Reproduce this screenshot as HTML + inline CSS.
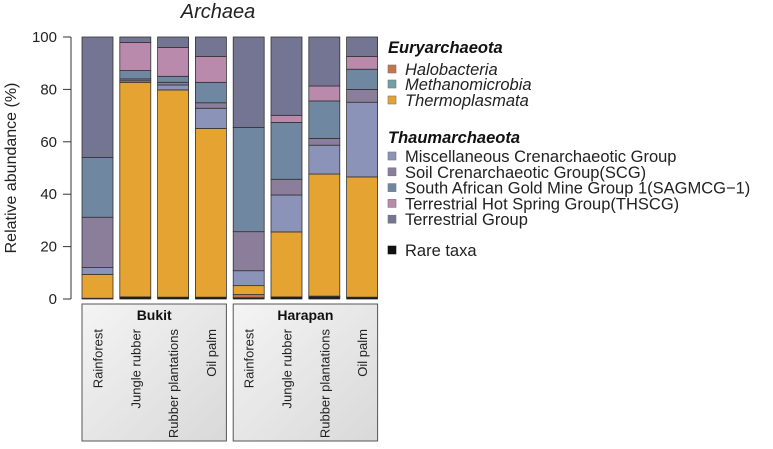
<!DOCTYPE html>
<html><head><meta charset="utf-8"><style>
body{margin:0;background:#fff;font-family:"Liberation Sans",Arial,sans-serif;overflow:hidden}
svg text{font-family:"Liberation Sans",Arial,sans-serif}
</style></head><body>
<svg id="chart" width="773" height="444">
<defs><linearGradient id="gbox" x1="0" y1="0" x2="1" y2="1"><stop offset="0" stop-color="#f4f4f4"/><stop offset="1" stop-color="#d9d9d9"/></linearGradient></defs>
<text x="218" y="18" font-size="20" font-style="italic" text-anchor="middle" fill="#222">Archaea</text>
<text transform="translate(16,168) rotate(-90)" font-size="16" text-anchor="middle" fill="#222">Relative abundance (%)</text>
<g id="axis"></g><g id="bars"></g><g id="xlab"></g><g id="legend"></g>
</svg>
<script>
const categories=["Rainforest","Jungle rubber","Rubber plantations","Oil palm","Rainforest","Jungle rubber","Rubber plantations","Oil palm"];
const groups=["Bukit","Harapan"];
const seriesNames=["Rare taxa","Halobacteria","Methanomicrobia","Thermoplasmata","Miscellaneous Crenarchaeotic Group","Soil Crenarchaeotic Group(SCG)","South African Gold Mine Group 1(SAGMCG\u22121)","Terrestrial Hot Spring Group(THSCG)","Terrestrial Group"];
const rare=[0.3,0.8,0.7,0.7,0.5,0.8,0.8,0.7];
const halobacteria=[0,0,0,0,1.2,0,0.3,0];
const methanomicrobia=[0,0,0,0,0,0,0,0];
const thermoplasmata=[9.1,81.9,79.1,64.4,3.4,24.8,46.6,45.9];
const mcg=[2.6,0.6,1.9,7.7,5.7,14.1,11.0,28.5];
const scg=[19.2,0.7,1.0,2.1,14.9,6.0,2.6,4.9];
const sagmcg=[22.8,3.2,2.3,7.8,39.8,21.7,14.3,7.7];
const thscg=[0,10.7,11.0,9.9,0,2.7,5.7,4.9];
const terrestrial=[46.0,2.1,4.0,7.4,34.5,29.9,18.7,7.4];
const yTicks=[0,20,40,60,80,100];
const colors=["#111","#C8734A","#6FA0A8","#E5A332","#8C93B8","#8A7E9B","#6F87A0","#B98AAB","#737592"];
const ns="http://www.w3.org/2000/svg";
const y0=299,y1=37;
function yScale(v){return y0-(v/100)*(y0-y1);}
function xScale(i){return 82+i*37.8;}
const bw=31;
function mk(tag,attrs,parent){const e=document.createElementNS(ns,tag);for(const k in attrs)e.setAttribute(k,attrs[k]);parent.appendChild(e);return e;}
const axis=document.getElementById('axis');
let ln=mk('line',{x1:71,x2:71,y1:yScale(0),y2:yScale(100),stroke:'#333','stroke-width':1},axis);


yTicks.forEach(t=>{
 const tk=mk('line',{x1:63,x2:71,y1:yScale(t),y2:yScale(t),stroke:'#333'},axis);
 
 
 const tx=mk('text',{x:57,y:yScale(t)+5,'font-size':15,'text-anchor':'end',fill:'#222'},axis);
 tx.textContent=t;
 
 
});
const series=[rare,halobacteria,methanomicrobia,thermoplasmata,mcg,scg,sagmcg,thscg,terrestrial];
const bars=document.getElementById('bars');
categories.forEach((c,i)=>{
 let cum=0;
 series.forEach((s,j)=>{
  const v=s[i]; if(v<=0){return;}
  const r=mk('rect',{x:xScale(i),y:yScale(cum+v),width:bw,height:yScale(cum)-yScale(cum+v),fill:colors[j],stroke:'#333','stroke-width':0.8},bars);
  
  
  cum+=v;
 });
});
const xl=document.getElementById('xlab');
groups.forEach((g,gi)=>{
 const x=xScale(gi*4);
 const b=mk('rect',{x:x,y:304,width:xScale(gi*4+3)+bw-x,height:137,fill:'url(#gbox)',stroke:'#555'},xl);
 
 
 const t=mk('text',{x:x+(xScale(gi*4+3)+bw-x)/2,y:320,'font-size':14,'font-weight':'bold','text-anchor':'middle',fill:'#111'},xl);
 t.textContent=g;
 
 
});
categories.forEach((c,i)=>{
 const cx=xScale(i)+bw/2+5;
 const t=mk('text',{transform:`translate(${cx},329) rotate(-90)`,'font-size':13,'text-anchor':'end',fill:'#222'},xl);
 t.textContent=c;
 
 
});
const lg=document.getElementById('legend');
function head(txt,y){const t=mk('text',{x:388,y:y,'font-size':16.5,'font-weight':'bold','font-style':'italic',fill:'#111'},lg);t.textContent=txt;
 
 }
function item(txt,col,y,it){
 const r=mk('rect',{x:388,y:y-10,width:8,height:8,fill:col,stroke:col=="#111"?'#111':'#777','stroke-width':0.6},lg);
 
 
 const t=mk('text',{x:405,y:y,'font-size':16.5,fill:'#222'},lg);
 if(it)t.setAttribute('font-style','italic');
 t.textContent=txt;
 
 
}
head("Euryarchaeota",53);
item(seriesNames[1],colors[1],75,true);
item(seriesNames[2],colors[2],90,true);
item(seriesNames[3],colors[3],106,true);
head("Thaumarchaeota",143);
[4,5,6,7,8].forEach((j,k)=>item(seriesNames[j],colors[j],162+k*15.8,false));
item(seriesNames[0],colors[0],256,false);
</script>
</body></html>
